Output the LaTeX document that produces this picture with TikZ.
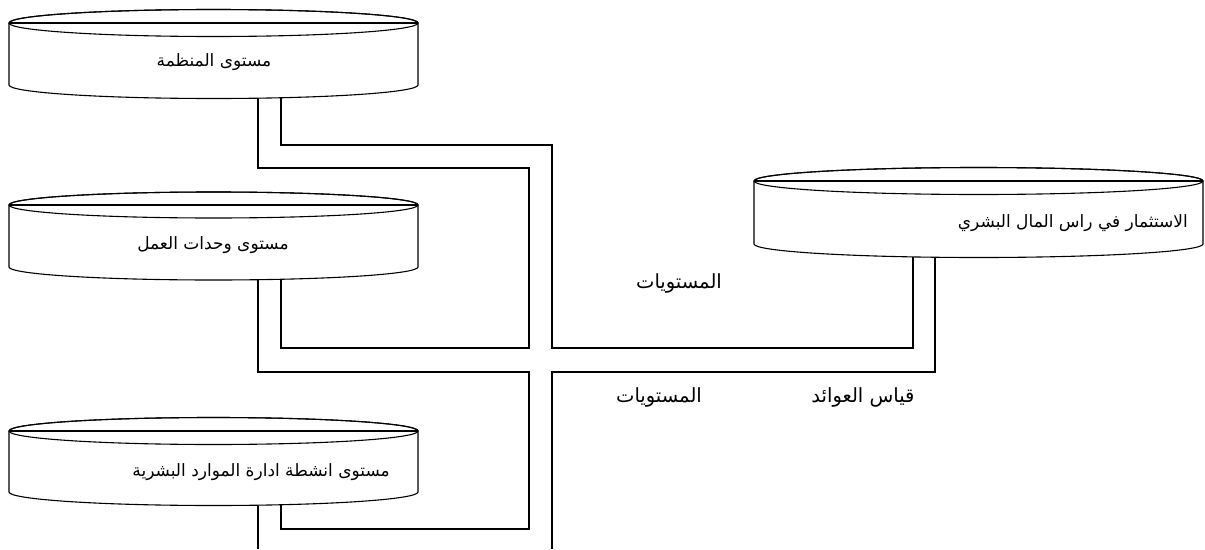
\documentclass[tikz,border=0pt]{standalone}
\usepackage{fontspec}
\newfontfamily\arabicfont[Script=Arabic]{DejaVu Sans}
\TeXXeTstate=1

% can-shaped store: body with a rimmed top ellipse
% #1 left x, #2 right x, #3 rim y, #4 foot y, #5 ellipse half-height (all in pt, y downwards)
\newcommand\canshape[5]{%
  \pgfmathsetmacro\cnx{(#1+#2)/2}%
  \pgfmathsetmacro\cnrx{(#2-#1)/2}%
  \filldraw[canline,fill=white] (#1,-#3) -- (#1,-#4)
    arc[start angle=180,end angle=360,x radius=\cnrx pt,y radius=#5pt]
    -- (#2,-#3)
    arc[start angle=0,end angle=180,x radius=\cnrx pt,y radius=#5pt] -- cycle;
  \draw[canline] (\cnx,-#3) ellipse[x radius=\cnrx pt,y radius=#5pt];
  \draw[canline] (#1,-#3) -- (#2,-#3);
}

\tikzset{
  canline/.style={line width=1.1pt,draw=black,line join=miter},
  link/.style={line width=1.1pt,draw=black,line join=miter},
  lbl/.style={font=\arabicfont\fontsize{17}{20}\selectfont,inner sep=0pt},
  biglbl/.style={font=\arabicfont\fontsize{19.5}{23}\selectfont,inner sep=0pt},
}

\begin{document}
\begin{tikzpicture}[x=1pt,y=1pt]
\useasboundingbox (0,0) rectangle (1205,-549);

% ports on the feet of the stores
\coordinate (p1a) at (258,-85);
\coordinate (p1b) at (281,-85);
\coordinate (p2a) at (258,-267);
\coordinate (p2b) at (281,-267);
\coordinate (p3a) at (258,-492);
\coordinate (p3b) at (281,-492);
\coordinate (p4a) at (913,-244);
\coordinate (p4b) at (935,-244);
% free ends at the lower edge
\coordinate (e1) at (258,-549);
\coordinate (e2) at (552,-549);

% double-line channels
\draw[link] (p1b) -- (281,-145) -- (552,-145) -- (552,-348) -- (913,-348) -- (p4a);
\draw[link] (p1a) -- (258,-168) -- (529,-168) -- (529,-348) -- (281,-348) -- (p2b);
\draw[link] (p2a) -- (258,-372) -- (529,-372) -- (529,-529) -- (281,-529) -- (p3b);
\draw[link] (p4b) -- (935,-372) -- (552,-372) -- (e2);
\draw[link] (p3a) -- (e1);

% stores
\canshape{9}{418}{23}{85}{13.5}
\canshape{9}{418}{205}{267}{13}
\canshape{9}{418}{431}{492}{13.5}
\canshape{754}{1203}{181}{244}{13.5}

\node[lbl] (c1) at (214,-62) {\beginR مستوى المنظمة\endR};
\node[lbl] (c2) at (213,-245) {\beginR مستوى وحدات العمل\endR};
\node[lbl,anchor=east] (c3) at (390,-472) {\beginR مستوى انشطة ادارة الموارد البشرية\endR};
\node[lbl,anchor=east] (c4) at (1188,-223) {\beginR الاستثمار في راس المال البشري\endR};

% channel labels
\node[biglbl] (t1) at (679,-283) {\beginR المستويات\endR};
\node[biglbl] (t2) at (659,-397) {\beginR المستويات\endR};
\node[biglbl] (t3) at (863,-397) {\beginR قياس العوائد\endR};
\end{tikzpicture}
\end{document}
